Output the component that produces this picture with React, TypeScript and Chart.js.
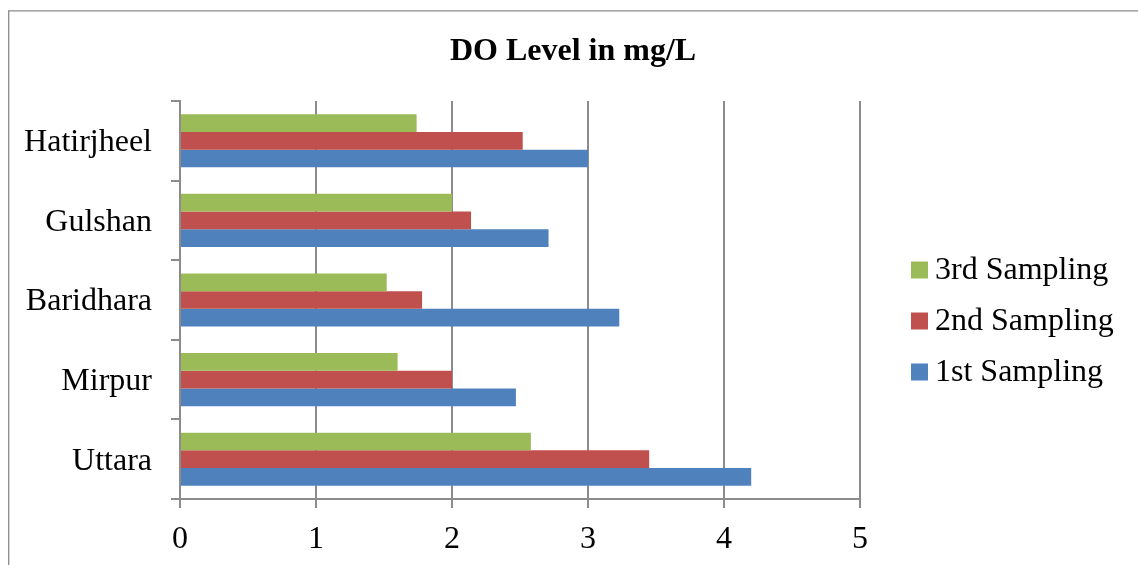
import React, { useEffect, useRef } from "react";
import { Chart, registerables } from "chart.js";

Chart.register(...registerables);

const chartTitle = "DO Level in mg/L";
const categories = ["Hatirjheel", "Gulshan", "Baridhara", "Mirpur", "Uttara"];
const seriesNames = ["3rd Sampling", "2nd Sampling", "1st Sampling"];
const seriesColors = ["#9BBB59", "#C0504D", "#4F81BD"];
const thirdSampling = [1.74, 2.0, 1.52, 1.6, 2.58];
const secondSampling = [2.52, 2.14, 1.78, 2.0, 3.45];
const firstSampling = [3.0, 2.71, 3.23, 2.47, 4.2];
const xTicks = [0, 1, 2, 3, 4, 5];

const FONT = "'Liberation Serif', 'Times New Roman', serif";
const GRID = "#8c8c8c";

const decorPlugin = {
  id: "decor",
  beforeDraw(chart: any) {
    const ctx = chart.ctx;
    ctx.save();
    ctx.strokeStyle = GRID;
    ctx.lineWidth = 1.3;
    ctx.beginPath();
    ctx.moveTo(0.7, 2.8);
    ctx.lineTo(0.7, chart.height);
    ctx.moveTo(0, 2.8);
    ctx.lineTo(chart.width, 2.8);
    ctx.stroke();
    ctx.restore();
  },
  afterDraw(chart: any) {
    const ctx = chart.ctx;
    const area = chart.chartArea;
    ctx.save();
    // title
    ctx.fillStyle = "#000";
    ctx.font = `bold 32px ${FONT}`;
    ctx.textAlign = "center";
    ctx.textBaseline = "middle";
    ctx.fillText(chartTitle, chart.width / 2, 43.5);
    // legend
    const midY = (area.top + area.bottom) / 2 + 21;
    const ds = chart.data.datasets;
    ctx.font = `32px ${FONT}`;
    ctx.textAlign = "left";
    ds.forEach((d: any, i: number) => {
      const cy = midY + (i - (ds.length - 1) / 2) * 51;
      const bx = area.right + 51;
      ctx.fillStyle = d.backgroundColor;
      ctx.fillRect(bx, cy - 8.5, 17, 17);
      ctx.fillStyle = "#000";
      ctx.fillText(d.label, bx + 24, cy + 1);
    });
    ctx.restore();
  },
};

export default function App() {
  const ref = useRef<HTMLCanvasElement | null>(null);
  useEffect(() => {
    if (!ref.current) return;
    const values = [thirdSampling, secondSampling, firstSampling];
    const chart = new Chart(ref.current, {
      type: "bar",
      data: {
        labels: categories,
        datasets: seriesNames.map((name, i) => ({
          label: name,
          data: values[i],
          backgroundColor: seriesColors[i],
          borderWidth: 0,
          categoryPercentage: 0.667,
          barPercentage: 1,
        })),
      },
      options: {
        indexAxis: "y",
        responsive: false,
        animation: false,
        layout: { padding: { top: 93, right: 278, left: 0, bottom: 0 } },
        plugins: {
          legend: { display: false },
          title: { display: false },
          tooltip: { enabled: false },
        },
        scales: {
          x: {
            min: 0,
            max: 5,
            afterFit: (s: any) => {
              s.height = 66;
            },
            afterBuildTicks: (s: any) => {
              s.ticks = xTicks.map((v) => ({ value: v }));
            },
            ticks: {
              color: "#000",
              font: { family: FONT, size: 32 },
              padding: 12,
              maxRotation: 0,
            },
            grid: {
              color: GRID,
              lineWidth: 2,
              tickLength: 9,
              drawOnChartArea: true,
            },
            border: { color: GRID, width: 2 },
          },
          y: {
            afterFit: (s: any) => {
              s.width = 172;
            },
            ticks: {
              color: "#000",
              font: { family: FONT, size: 32 },
              padding: 19,
              labelOffset: 2,
            },
            grid: {
              color: GRID,
              lineWidth: 2,
              tickLength: 9,
              drawOnChartArea: false,
              offset: true,
            },
            border: { color: GRID, width: 2 },
          },
        },
      },
      plugins: [decorPlugin],
    });
    return () => chart.destroy();
  }, []);
  return (
    <div style={{ position: "fixed", left: 8, top: 8, width: 1130, height: 557 }}>
      <canvas ref={ref} width={1130} height={557} style={{ display: "block" }} />
    </div>
  );
}
